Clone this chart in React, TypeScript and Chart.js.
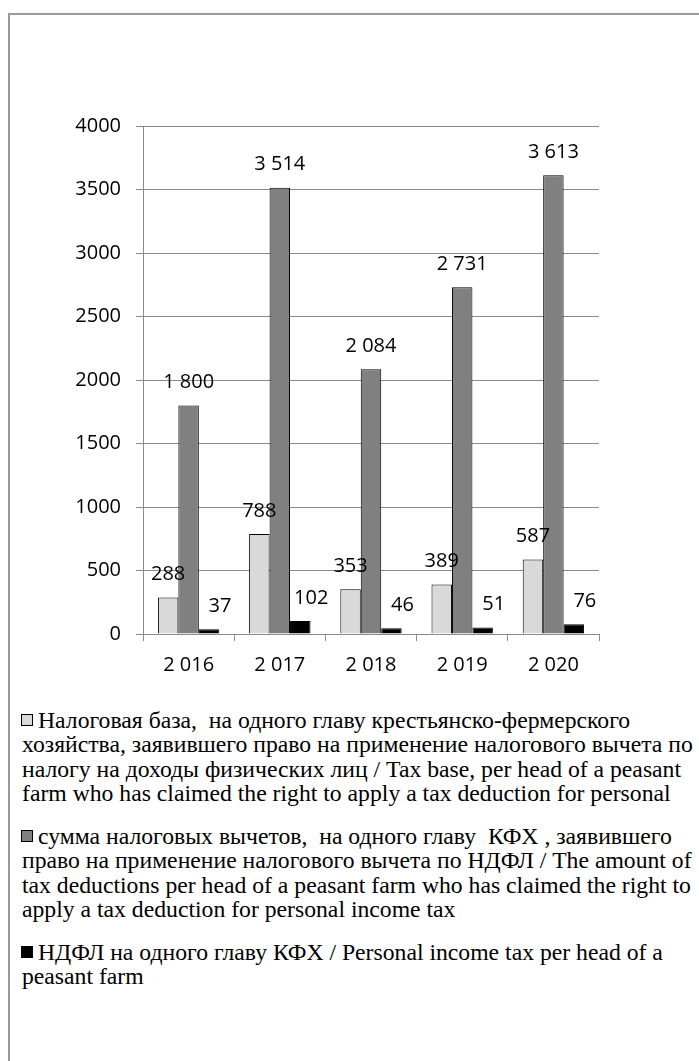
import React, { useEffect, useRef } from "react";
import { Chart, registerables } from "chart.js";

Chart.register(...registerables);

// ---- Data ----
const categories = ["2 016", "2 017", "2 018", "2 019", "2 020"];
const taxBase = [288, 788, 353, 389, 587];
const deductions = [1800, 3514, 2084, 2731, 3613];
const ndfl = [37, 102, 46, 51, 76];
const yMin = 0;
const yMax = 4000;
const yStep = 500;

const seriesNames = [
  "Налоговая база,  на одного главу крестьянско-фермерского хозяйства, заявившего право на применение налогового вычета по налогу на доходы физических лиц / Tax base, per head of a peasant farm who has claimed the right to apply a tax deduction for personal",
  "сумма налоговых вычетов,  на одного главу  КФХ , заявившего право на применение налогового вычета по НДФЛ / The amount of tax deductions per head of a peasant farm who has claimed the right to apply a tax deduction for personal income tax",
  "НДФЛ на одного главу КФХ / Personal income tax per head of a peasant farm",
];

const legendLines = [
  [
    "Налоговая база,  на одного главу крестьянско-фермерского",
    "хозяйства, заявившего право на применение налогового вычета по",
    "налогу на доходы физических лиц / Tax base, per head of a peasant",
    "farm who has claimed the right to apply a tax deduction for personal",
  ],
  [
    "сумма налоговых вычетов,  на одного главу  КФХ , заявившего",
    "право на применение налогового вычета по НДФЛ / The amount of",
    "tax deductions per head of a peasant farm who has claimed the right to",
    "apply a tax deduction for personal income tax",
  ],
  [
    "НДФЛ на одного главу КФХ / Personal income tax per head of a",
    "peasant farm",
  ],
];

const seriesColors = ["#d9d9d9", "#808080", "#000000"];

const AXIS_FONT = "'Open Sans', sans-serif";
const GRID = "#8a8a8a";

function fmt(v: number): string {
  return String(v).replace(/\B(?=(\d{3})+(?!\d))/g, " ");
}

const valueLabels = {
  id: "valueLabels",
  afterDatasetsDraw(chart: any) {
    const ctx = chart.ctx;
    ctx.save();
    ctx.font = `20px ${AXIS_FONT}`;
    ctx.fillStyle = "#000";
    ctx.textAlign = "center";
    ctx.textBaseline = "middle";
    chart.data.datasets.forEach((ds: any, di: number) => {
      const meta = chart.getDatasetMeta(di);
      meta.data.forEach((bar: any, i: number) => {
        const dx = di === 2 ? 11 : 0;
        ctx.fillText(fmt(ds.data[i]), bar.x + dx, bar.y - 23);
      });
    });
    ctx.restore();
  },
};

function ChartCanvas() {
  const ref = useRef<HTMLCanvasElement | null>(null);
  useEffect(() => {
    if (!ref.current) return;
    const chart = new Chart(ref.current, {
      type: "bar",
      data: {
        labels: categories,
        datasets: [taxBase, deductions, ndfl].map((d, i) => ({
          label: seriesNames[i],
          data: d,
          backgroundColor: seriesColors[i],
          borderColor: "#000000",
          borderWidth: 1,
          barPercentage: 1,
          categoryPercentage: 0.673,
        })),
      },
      options: {
        responsive: false,
        animation: false,
        devicePixelRatio: 1,
        layout: { padding: { left: 0, right: 100, top: 126, bottom: 16 } },
        plugins: {
          legend: { display: false },
          tooltip: { enabled: false },
        },
        scales: {
          x: {
            afterFit: (s: any) => {
              s.height = 50;
            },
            grid: {
              drawOnChartArea: false,
              drawTicks: true,
              tickLength: 7,
              color: GRID,
              offset: true,
            },
            border: { color: GRID, width: 1 },
            ticks: {
              color: "#000",
              font: { family: AXIS_FONT, size: 20 },
              padding: 12,
              maxRotation: 0,
            },
          },
          y: {
            min: yMin,
            max: yMax,
            afterFit: (s: any) => {
              s.width = 143;
            },
            grid: { color: GRID, tickLength: 7, lineWidth: 1 },
            border: { color: GRID, width: 1 },
            ticks: {
              stepSize: yStep,
              color: "#000",
              font: { family: AXIS_FONT, size: 20 },
              padding: 15,
              callback: (v: any) => String(v),
            },
          },
        },
      },
      plugins: [valueLabels],
    });
    return () => chart.destroy();
  }, []);
  return (
    <canvas
      ref={ref}
      width={699}
      height={700}
      style={{ position: "absolute", left: 0, top: 0, width: 699, height: 700 }}
    />
  );
}

const LEGEND_FONT = "'Liberation Serif', 'Times New Roman', serif";
const LINE_H = 24.5;
const itemTops = [720, 836, 952];

export default function App() {
  return (
    <div
      style={{
        position: "absolute",
        left: 0,
        top: 0,
        width: 699,
        height: 1061,
        overflow: "hidden",
        background: "#fff",
      }}
    >
      <div
        style={{
          position: "absolute",
          left: 8,
          top: 13,
          width: 760,
          height: 1100,
          border: "2px solid #9a9a9a",
          boxSizing: "border-box",
        }}
      />
      <ChartCanvas />
      {legendLines.map((lines, li) => (
        <React.Fragment key={li}>
          <div
            style={{
              position: "absolute",
              left: 21,
              top: itemTops[li] - 6,
              width: 12,
              height: 12,
              boxSizing: "border-box",
              background: seriesColors[li],
              border: "1px solid #000",
            }}
          />
          {lines.map((t, j) => (
            <div
              key={j}
              style={{
                position: "absolute",
                left: j === 0 ? 38 : 22,
                top: itemTops[li] + j * LINE_H - LINE_H / 2,
                height: LINE_H,
                lineHeight: `${LINE_H}px`,
                fontFamily: LEGEND_FONT,
                fontSize: 23.7,
                color: "#000",
                whiteSpace: "pre",
              }}
            >
              {t}
            </div>
          ))}
        </React.Fragment>
      ))}
    </div>
  );
}
